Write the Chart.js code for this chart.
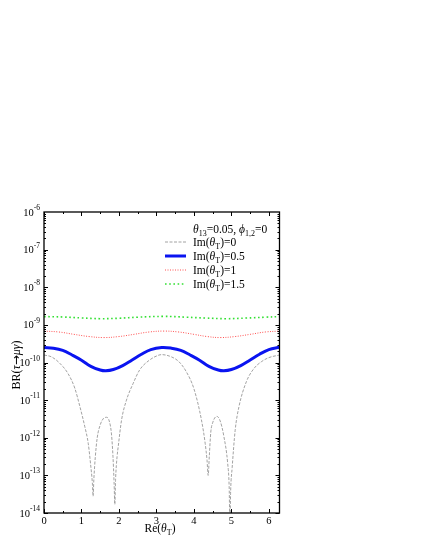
<!DOCTYPE html>
<html>
<head>
<meta charset="utf-8">
<script src="https://cdn.jsdelivr.net/npm/chart.js@4.4.1/dist/chart.umd.min.js"></script>
<style>
  html, body { margin: 0; padding: 0; background: #fff; }
  #wrap { width: 425px; height: 550px; position: relative; }
</style>
</head>
<body>
<div id="wrap"><canvas id="brChart"></canvas></div>
<script>
// Re(theta_T) sample points and BR values
const grayX = [0, 0.2, 0.4, 0.64, 0.82, 0.96, 1.09, 1.18, 1.24, 1.29, 1.31, 1.33, 1.37, 1.42, 1.5, 1.58, 1.67, 1.74, 1.8, 1.84, 1.87, 1.89, 1.91, 1.95, 1.98, 2.07, 2.2, 2.38, 2.55, 2.81, 3.07, 3.14,
  3.4, 3.6, 3.8, 4.0, 4.2, 4.3, 4.35, 4.38, 4.41, 4.45, 4.5, 4.61, 4.7, 4.8, 4.9, 4.94, 4.96, 4.98, 5.02, 5.1, 5.2, 5.4, 5.6, 5.8, 6.0, 6.283];
const grayY = [1.58e-10, 1.41e-10, 1.0e-10, 5.1e-11, 2.1e-11, 6.6e-12, 1.95e-12, 7.1e-13, 2.1e-13, 6.3e-14, 2.8e-14, 7.9e-14, 3.2e-13, 1.0e-12, 2.2e-12, 3.2e-12, 3.5e-12, 2.8e-12, 1.26e-12, 3.2e-13, 6.3e-14, 1.7e-14, 7.9e-14, 3.2e-13, 5.8e-13, 3.0e-12, 1.0e-11, 2.8e-11, 6.3e-11, 1.15e-10, 1.58e-10, 1.62e-10,
  1.41e-10, 1.05e-10, 5.6e-11, 2.0e-11, 3.0e-12, 7.1e-13, 2.5e-13, 1.0e-13, 3.2e-13, 1.41e-12, 2.5e-12, 3.7e-12, 2.8e-12, 1.07e-12, 2.1e-13, 5.0e-14, 5e-15, 4.0e-14, 1.6e-13, 1.58e-12, 6.6e-12, 3.1e-11, 6.9e-11, 1.05e-10, 1.35e-10, 1.58e-10];

const blueX = [0, 0.25, 0.5, 0.75, 1.0, 1.25, 1.5, 1.65, 1.85, 2.1, 2.35, 2.6, 2.85, 3.14, 3.4, 3.65, 3.9, 4.15, 4.4, 4.65, 4.8, 5.0, 5.25, 5.5, 5.75, 6.0, 6.283];
const blueY = [2.5e-10, 2.4e-10, 2.1e-10, 1.58e-10, 1.15e-10, 7.9e-11, 6.3e-11, 6.0e-11, 6.5e-11, 8.3e-11, 1.17e-10, 1.66e-10, 2.2e-10, 2.5e-10, 2.4e-10, 2.1e-10, 1.58e-10, 1.15e-10, 7.9e-11, 6.3e-11, 6.0e-11, 6.5e-11, 8.3e-11, 1.17e-10, 1.66e-10, 2.2e-10, 2.55e-10];

const redX = [0, 0.4, 0.8, 1.2, 1.6, 2.0, 2.4, 2.8, 3.2, 3.6, 4.0, 4.35, 4.7, 5.1, 5.5, 5.9, 6.283];
const redY = [6.84e-10, 6.46e-10, 5.6e-10, 4.9e-10, 4.6e-10, 4.9e-10, 5.6e-10, 6.46e-10, 6.84e-10, 6.46e-10, 5.6e-10, 4.9e-10, 4.6e-10, 4.9e-10, 5.6e-10, 6.46e-10, 6.84e-10];

const greenX = [0, 0.5, 1.0, 1.5, 2.0, 2.5, 3.2, 3.8, 4.3, 4.87, 5.4, 5.9, 6.283];
const greenY = [1.66e-9, 1.62e-9, 1.53e-9, 1.46e-9, 1.5e-9, 1.6e-9, 1.68e-9, 1.6e-9, 1.52e-9, 1.46e-9, 1.52e-9, 1.6e-9, 1.66e-9];

const seriesLabels = ['0', '0.5', '1', '1.5'];
const xTickLabels = ['0', '1', '2', '3', '4', '5', '6'];
const yTickExponents = ['-6', '-7', '-8', '-9', '-10', '-11', '-12', '-13', '-14'];

const FONT = '"Liberation Serif", "DejaVu Serif", serif';

function pts(xs, ys) {
    return xs.map((x, i) => ({ x: x, y: ys[i] }));
}

// frame, inward ticks, labels and legend
const framePlugin = {
    id: 'frame',
    afterDraw(chart) {
        const ctx = chart.ctx;
        const a = chart.chartArea;
        const xs = chart.scales.x;
        const ys = chart.scales.y;
        ctx.save();
        ctx.strokeStyle = '#000';
        ctx.lineWidth = 1;

        // x ticks (major 1, minor 0.5)
        for (let v = 0; v <= 6.01; v += 0.5) {
            const px = Math.round(xs.getPixelForValue(v)) + 0.5;
            const len = (Math.abs(v - Math.round(v)) < 0.01) ? 4 : 2;
            ctx.beginPath();
            ctx.moveTo(px, a.bottom); ctx.lineTo(px, a.bottom - len);
            ctx.moveTo(px, a.top); ctx.lineTo(px, a.top + len);
            ctx.stroke();
        }
        // y ticks (decades + minor)
        for (let e = -14; e < -6; e++) {
            for (let m = 1; m <= 9; m++) {
                const py = Math.round(ys.getPixelForValue(m * Math.pow(10, e))) + 0.5;
                const len = m === 1 ? 4 : 2;
                ctx.beginPath();
                ctx.moveTo(a.left, py); ctx.lineTo(a.left + len, py);
                ctx.moveTo(a.right, py); ctx.lineTo(a.right - len, py);
                ctx.stroke();
            }
        }

        // box
        ctx.lineWidth = 1.3;
        ctx.strokeRect(a.left, a.top, a.right - a.left, a.bottom - a.top);

        ctx.fillStyle = '#000';
        // x tick labels
        ctx.font = '10.5px ' + FONT;
        ctx.textAlign = 'center';
        ctx.textBaseline = 'alphabetic';
        xTickLabels.forEach(t => {
            ctx.fillText(t, xs.getPixelForValue(Number(t)), a.bottom + 11);
        });

        // y tick labels 10^e
        yTickExponents.forEach(ex => {
            const py = ys.getPixelForValue(Math.pow(10, Number(ex)));
            ctx.font = '7.5px ' + FONT;
            const ew = ctx.measureText(ex).width;
            ctx.textAlign = 'right';
            ctx.fillText(ex, 40, py - 2);
            ctx.font = '10.5px ' + FONT;
            ctx.fillText('10', 40 - ew, py + 3.5);
        });

        // x axis title Re(θT)
        drawRich(ctx, [['Re(', 11.5, 0, ''], ['θ', 11.5, 0, 'italic '], ['T', 8, 3, ''], [')', 11.5, 0, '']], 160, 532, 'center');

        // y axis title BR(τ→μγ)
        ctx.save();
        ctx.translate(20, 365);
        ctx.rotate(-Math.PI / 2);
        drawRich(ctx, [['BR(', 12, 0, ''], ['τ', 12, 0, 'italic '], ['→', 12, 0, '', '"DejaVu Sans"'], ['μγ', 12, 0, 'italic '], [')', 12, 0, '']], 0, 0, 'center');
        ctx.restore();

        // legend
        drawRich(ctx, [['θ', 11.5, 0, 'italic '], ['13', 8, 3, ''], ['=0.05, ', 11.5, 0, ''], ['ϕ', 11.5, 0, 'italic '], ['1,2', 8, 3, ''], ['=0', 11.5, 0, '']], 193, 233, 'left');
        const rows = [246, 260, 274, 288];
        chart.data.datasets.forEach((ds, i) => {
            const y = rows[i] - 4;
            ctx.save();
            ctx.strokeStyle = ds.borderColor;
            ctx.lineWidth = ds.borderWidth;
            ctx.setLineDash(ds.borderDash || []);
            ctx.beginPath();
            ctx.moveTo(165, y); ctx.lineTo(186, y);
            ctx.stroke();
            ctx.restore();
            drawRich(ctx, [['Im(', 11.5, 0, ''], ['θ', 11.5, 0, 'italic '], ['T', 8, 3, ''], [')=' + seriesLabels[i], 11.5, 0, '']], 193, rows[i], 'left');
        });

        ctx.restore();
    }
};

// draw text pieces [text, size, baselineShift, style, family?]
function drawRich(ctx, parts, x, y, align) {
    const fontOf = p => p[3] + p[1] + 'px ' + (p[4] || FONT);
    let total = 0;
    parts.forEach(p => {
        ctx.font = fontOf(p);
        p.w = ctx.measureText(p[0]).width;
        total += p.w;
    });
    let cx = align === 'center' ? x - total / 2 : x;
    ctx.textAlign = 'left';
    ctx.textBaseline = 'alphabetic';
    ctx.fillStyle = '#000';
    parts.forEach(p => {
        ctx.font = fontOf(p);
        ctx.fillText(p[0], cx, y + p[2]);
        cx += p.w;
    });
}

new Chart(document.getElementById('brChart'), {
    type: 'scatter',
    data: {
        datasets: [
            {
                label: 'Im(θT)=0',
                data: pts(grayX, grayY),
                borderColor: '#8a8a8a',
                borderWidth: 0.8,
                borderDash: [3, 1.5],
                cubicInterpolationMode: 'monotone'
            },
            {
                label: 'Im(θT)=0.5',
                data: pts(blueX, blueY),
                borderColor: '#0a14f0',
                borderWidth: 3,
                tension: 0.4
            },
            {
                label: 'Im(θT)=1',
                data: pts(redX, redY),
                borderColor: '#ff5050',
                borderWidth: 1,
                borderDash: [1, 1.5],
                tension: 0.4
            },
            {
                label: 'Im(θT)=1.5',
                data: pts(greenX, greenY),
                borderColor: '#33e033',
                borderWidth: 1.6,
                borderDash: [1.6, 2.6],
                tension: 0.4
            }
        ].map(d => Object.assign(d, { showLine: true, pointRadius: 0, fill: false }))
    },
    options: {
        responsive: true,
        maintainAspectRatio: false,
        animation: false,
        layout: { padding: { left: 44, right: 145.5, top: 212, bottom: 37 } },
        plugins: { legend: { display: false }, tooltip: { enabled: false } },
        scales: {
            x: { type: 'linear', min: 0, max: 6.283, display: false },
            y: { type: 'logarithmic', min: 1e-14, max: 1e-6, display: false }
        }
    },
    plugins: [framePlugin]
});
</script>
</body>
</html>
